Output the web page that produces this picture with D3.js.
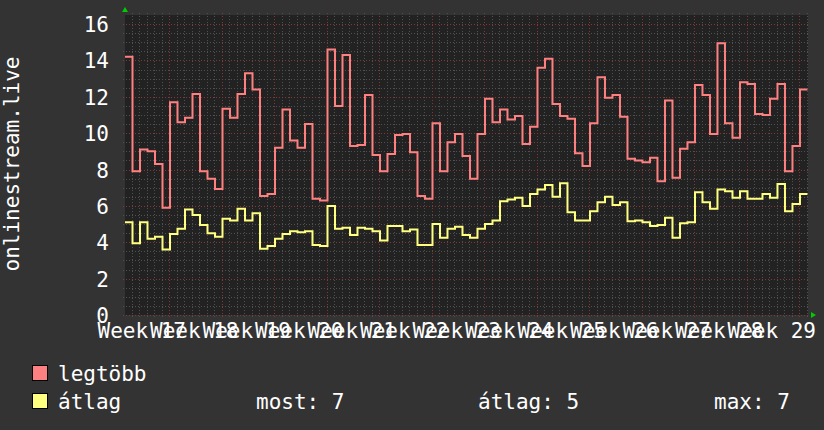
<body style="margin:0;background:#333333">
<script src="https://d3js.org/d3.v7.min.js"></script>
<script>
// chart size
var svgWidth = 824;
var svgHeight = 430;
var plotLeft = 125, plotRight = 808, plotTop = 15, plotBottom = 315;
var font = '"DejaVu Sans Mono", monospace';

// daily values, one per day (91 days)
var legtobb = [14.2, 7.9, 9.1, 9.0, 8.3, 5.9, 11.7, 10.6, 10.85, 12.15,
  7.9, 7.5, 6.93, 11.35, 10.85, 12.15, 13.3, 12.4, 6.55, 6.65,
  9.2, 11.3, 9.6, 9.2, 10.5, 6.4, 6.3, 14.6, 11.5, 14.3,
  9.3, 9.35, 12.1, 8.8, 7.9, 8.85, 9.9, 9.95, 8.95, 6.55,
  6.4, 10.55, 7.9, 9.5, 9.95, 8.75, 7.5, 9.95, 11.9, 10.6,
  11.3, 10.75, 10.95, 9.4, 10.35, 13.6, 14.1, 11.6, 10.95, 10.8,
  8.9, 8.2, 10.55, 13.07, 11.95, 12.1, 10.9, 8.6, 8.5, 8.4,
  8.65, 7.35, 11.8, 7.55, 9.15, 9.5, 12.65, 12.1, 9.95, 14.95,
  10.55, 9.75, 12.8, 12.7, 11.05, 11.0, 11.9, 12.7, 7.9, 9.3, 12.4]
var atlag = [5.1, 3.95, 5.1, 4.2, 4.3, 3.6, 4.45, 4.75, 5.8, 5.5,
  4.95, 4.5, 4.3, 5.3, 5.2, 5.85, 5.2, 5.6, 3.65, 3.8,
  4.2, 4.45, 4.6, 4.55, 4.6, 3.85, 3.8, 6.0, 4.75, 4.8,
  4.4, 4.8, 4.75, 4.6, 4.1, 4.9, 4.9, 4.6, 4.7, 3.85,
  3.85, 5.0, 4.25, 4.75, 4.85, 4.4, 4.25, 4.75, 5.0, 5.2,
  6.25, 6.35, 6.45, 6.0, 6.65, 6.9, 7.15, 6.5, 7.25, 5.65,
  5.2, 5.2, 5.7, 6.2, 6.5, 6.05, 6.2, 5.15, 5.2, 5.1,
  4.9, 4.95, 5.35, 4.25, 5.05, 5.1, 6.75, 6.2, 5.85, 6.9,
  6.8, 6.45, 6.8, 6.4, 6.4, 6.65, 6.45, 7.2, 5.7, 6.1, 6.65]

// axis labels
var weekNumbers = [17, 18, 19, 20, 21, 22, 23, 24, 25, 26, 27, 28, 29]
var firstWeekTick = 5.87   // day offset of first week line
var yTicks = [0, 2, 4, 6, 8, 10, 12, 14, 16]
var legendNames = ['legtöbb', 'átlag']
var legendColors = ['#ff8080', '#ffff80']
var statLabels = ['most: 7', 'átlag: 5', 'max: 7']

var svg = d3.select('body').append('svg')
  .attr('width', svgWidth)
  .attr('height', svgHeight)
  .style('display', 'block')

var x = d3.scaleLinear().domain([0, 91.07]).range([plotLeft, plotRight])
var y = d3.scaleLinear().domain([0, 16.5]).range([plotBottom, plotTop])

// plot background
svg.append('rect')
  .attr('x', plotLeft).attr('y', plotTop)
  .attr('width', plotRight - plotLeft).attr('height', plotBottom - plotTop)
  .attr('fill', '#222222')

// minor grid
var minorDays = d3.range(-6, 92).map(function(k){ return firstWeekTick + k }).filter(function(d){ return d >= 0 && d <= 91.07 })
var minorY = d3.range(0, 16.5, 0.5)

svg.selectAll('.vminor').data(minorDays).enter().append('line')
  .attr('x1', function(d){ return Math.round(x(d)) + 0.5 })
  .attr('x2', function(d){ return Math.round(x(d)) + 0.5 })
  .attr('y1', plotTop - 2).attr('y2', plotBottom + 2)
  .attr('stroke', '#505050').attr('stroke-dasharray', '1,2')
svg.selectAll('.hminor').data(minorY).enter().append('line')
  .attr('y1', function(d){ return Math.round(y(d)) + 0.5 })
  .attr('y2', function(d){ return Math.round(y(d)) + 0.5 })
  .attr('x1', plotLeft - 2).attr('x2', plotRight + 2)
  .attr('stroke', '#505050').attr('stroke-dasharray', '1,2')

// major grid
var weekDays = weekNumbers.map(function(w, i){ return firstWeekTick + 7 * i })
svg.selectAll('.vmajor').data(weekDays).enter().append('line')
  .attr('x1', function(d){ return Math.round(x(d)) + 0.5 })
  .attr('x2', function(d){ return Math.round(x(d)) + 0.5 })
  .attr('y1', plotTop - 2).attr('y2', plotBottom + 2)
  .attr('stroke', '#803838').attr('stroke-dasharray', '1,2')
svg.selectAll('.hmajor').data(yTicks).enter().append('line')
  .attr('y1', function(d){ return Math.round(y(d)) + 0.5 })
  .attr('y2', function(d){ return Math.round(y(d)) + 0.5 })
  .attr('x1', plotLeft - 2).attr('x2', plotRight + 2)
  .attr('stroke', '#803838').attr('stroke-dasharray', '1,2')

// lines
var line = d3.line()
  .x(function(d, i){ return x(i) })
  .y(function(d){ return y(d) })
  .curve(d3.curveStepAfter)

function drawSeries(data, color){
  var pts = data.concat([data[data.length - 1]])
  svg.append('path')
    .attr('d', line(pts))
    .attr('fill', 'none')
    .attr('stroke', color)
    .attr('stroke-width', 2)
}
drawSeries(legtobb, legendColors[0])
drawSeries(atlag, legendColors[1])

// arrows
svg.append('path')
  .attr('d', 'M' + (plotLeft - 3) + ',' + (plotTop - 3) + 'L' + (plotLeft + 3) + ',' + (plotTop - 3) + 'L' + plotLeft + ',' + (plotTop - 8) + 'Z')
  .attr('fill', '#00cc00')
svg.append('path')
  .attr('d', 'M' + (plotRight + 3) + ',' + (plotBottom - 3) + 'L' + (plotRight + 3) + ',' + (plotBottom + 3) + 'L' + (plotRight + 8) + ',' + plotBottom + 'Z')
  .attr('fill', '#00cc00')

// y labels
svg.selectAll('.ylab').data(yTicks).enter().append('text')
  .attr('x', 109)
  .attr('y', function(d){ return y(d) + 8 })
  .attr('text-anchor', 'end')
  .attr('font-family', font).attr('font-size', 21)
  .attr('fill', 'white')
  .text(function(d){ return d })

// x labels (overlapping, like the original)
svg.selectAll('.xlab').data(weekNumbers).enter().append('text')
  .attr('x', function(d, i){ return x(weekDays[i] - 3.5) - 1 })
  .attr('y', 338)
  .attr('text-anchor', 'middle')
  .attr('font-family', font).attr('font-size', 21)
  .attr('fill', 'white')
  .text(function(d){ return 'Week ' + d })

// vertical title
svg.append('text')
  .attr('transform', 'translate(19,164) rotate(-90)')
  .attr('text-anchor', 'middle')
  .attr('font-family', font).attr('font-size', 21)
  .attr('fill', 'white')
  .text('onlinestream.live')

// legend
legendNames.forEach(function(name, i){
  var by = 381 + i * 28
  svg.append('rect')
    .attr('x', 32.5).attr('y', by - 15.5)
    .attr('width', 15).attr('height', 15)
    .attr('fill', legendColors[i]).attr('stroke', 'black')
  svg.append('text')
    .attr('x', 58).attr('y', by)
    .attr('font-family', font).attr('font-size', 21)
    .attr('fill', 'white')
    .text(name)
})
var statX = [256, 478, 714]
statLabels.forEach(function(s, i){
  svg.append('text')
    .attr('x', statX[i]).attr('y', 409)
    .attr('font-family', font).attr('font-size', 21)
    .attr('fill', 'white')
    .text(s)
})
</script>
</body>
